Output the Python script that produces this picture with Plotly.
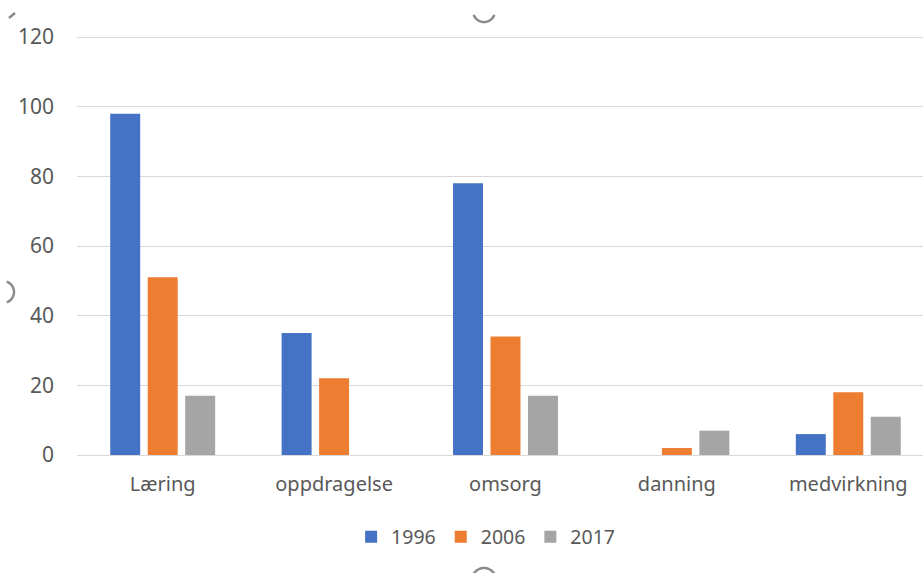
import math
import plotly.graph_objects as go

categories = ["Læring", "oppdragelse", "omsorg", "danning", "medvirkning"]
series_names = ["1996", "2006", "2017"]
values_1996 = [98, 35, 78, 0, 6]
values_2006 = [51, 22, 34, 2, 18]
values_2017 = [17, 0, 17, 7, 11]
colors = ["#4472C4", "#ED7D31", "#A5A5A5"]
y_ticks = [0, 20, 40, 60, 80, 100, 120]

fig = go.Figure()
for name, vals, col in zip(series_names, [values_1996, values_2006, values_2017], colors):
    fig.add_trace(go.Bar(name=name, x=categories, y=vals, marker=dict(color=col, line=dict(width=0))))

font = "Noto Sans"
txt = "#595959"
fig.update_layout(
    width=923, height=573,
    margin=dict(l=77, r=0, t=36, b=118),
    paper_bgcolor="white", plot_bgcolor="white",
    barmode="group", bargap=0.344, bargroupgap=0.2,
    font=dict(family=font, size=20, color=txt),
    showlegend=True,
    legend=dict(orientation="h", x=0.483, xanchor="center", y=-0.196, yanchor="middle",
                font=dict(size=19.5, color=txt), itemwidth=30, traceorder="normal"),
    xaxis=dict(range=[-0.5, 4.436], showgrid=False, showline=False, zeroline=False,
               ticks="", ticklabelstandoff=15, tickfont=dict(size=20, color=txt)),
    yaxis=dict(range=[0, 120.3], tickvals=y_ticks, showgrid=True, gridcolor="#D9D9D9", gridwidth=1,
               zeroline=True, zerolinecolor="#D9D9D9", zerolinewidth=1, showline=False,
               ticks="", ticklabelstandoff=22, tickfont=dict(size=21, color=txt)),
)

# selection-handle artifacts from the original screenshot (decoration, pixel based)
def px(x):
    return (x - 77) / 846

def py(y):
    return (455 - y) / 419

def arc_path(cx, cy, r, a0, a1, n=24):
    pts = []
    for i in range(n + 1):
        a = math.radians(a0 + (a1 - a0) * i / n)
        pts.append((px(cx + r * math.cos(a)), py(cy + r * math.sin(a))))
    return "M " + " L ".join(f"{x:.5f},{y:.5f}" for x, y in pts)

handle = dict(color="#8C8C8C", width=2.5)
# top centre: lower half arc
fig.add_shape(type="path", xref="paper", yref="paper", path=arc_path(484, 11, 11, 20, 160), line=handle)
# bottom centre: upper part of circle
fig.add_shape(type="path", xref="paper", yref="paper", path=arc_path(484, 580, 12, 190, 350), line=handle)
# left middle: right-hand arc
fig.add_shape(type="path", xref="paper", yref="paper", path=arc_path(3, 292, 11, -70, 70), line=handle)
# top-left corner tick
fig.add_shape(type="line", xref="paper", yref="paper", x0=px(9), y0=py(18), x1=px(15), y1=py(13), line=handle)

fig.write_html("out.html")
